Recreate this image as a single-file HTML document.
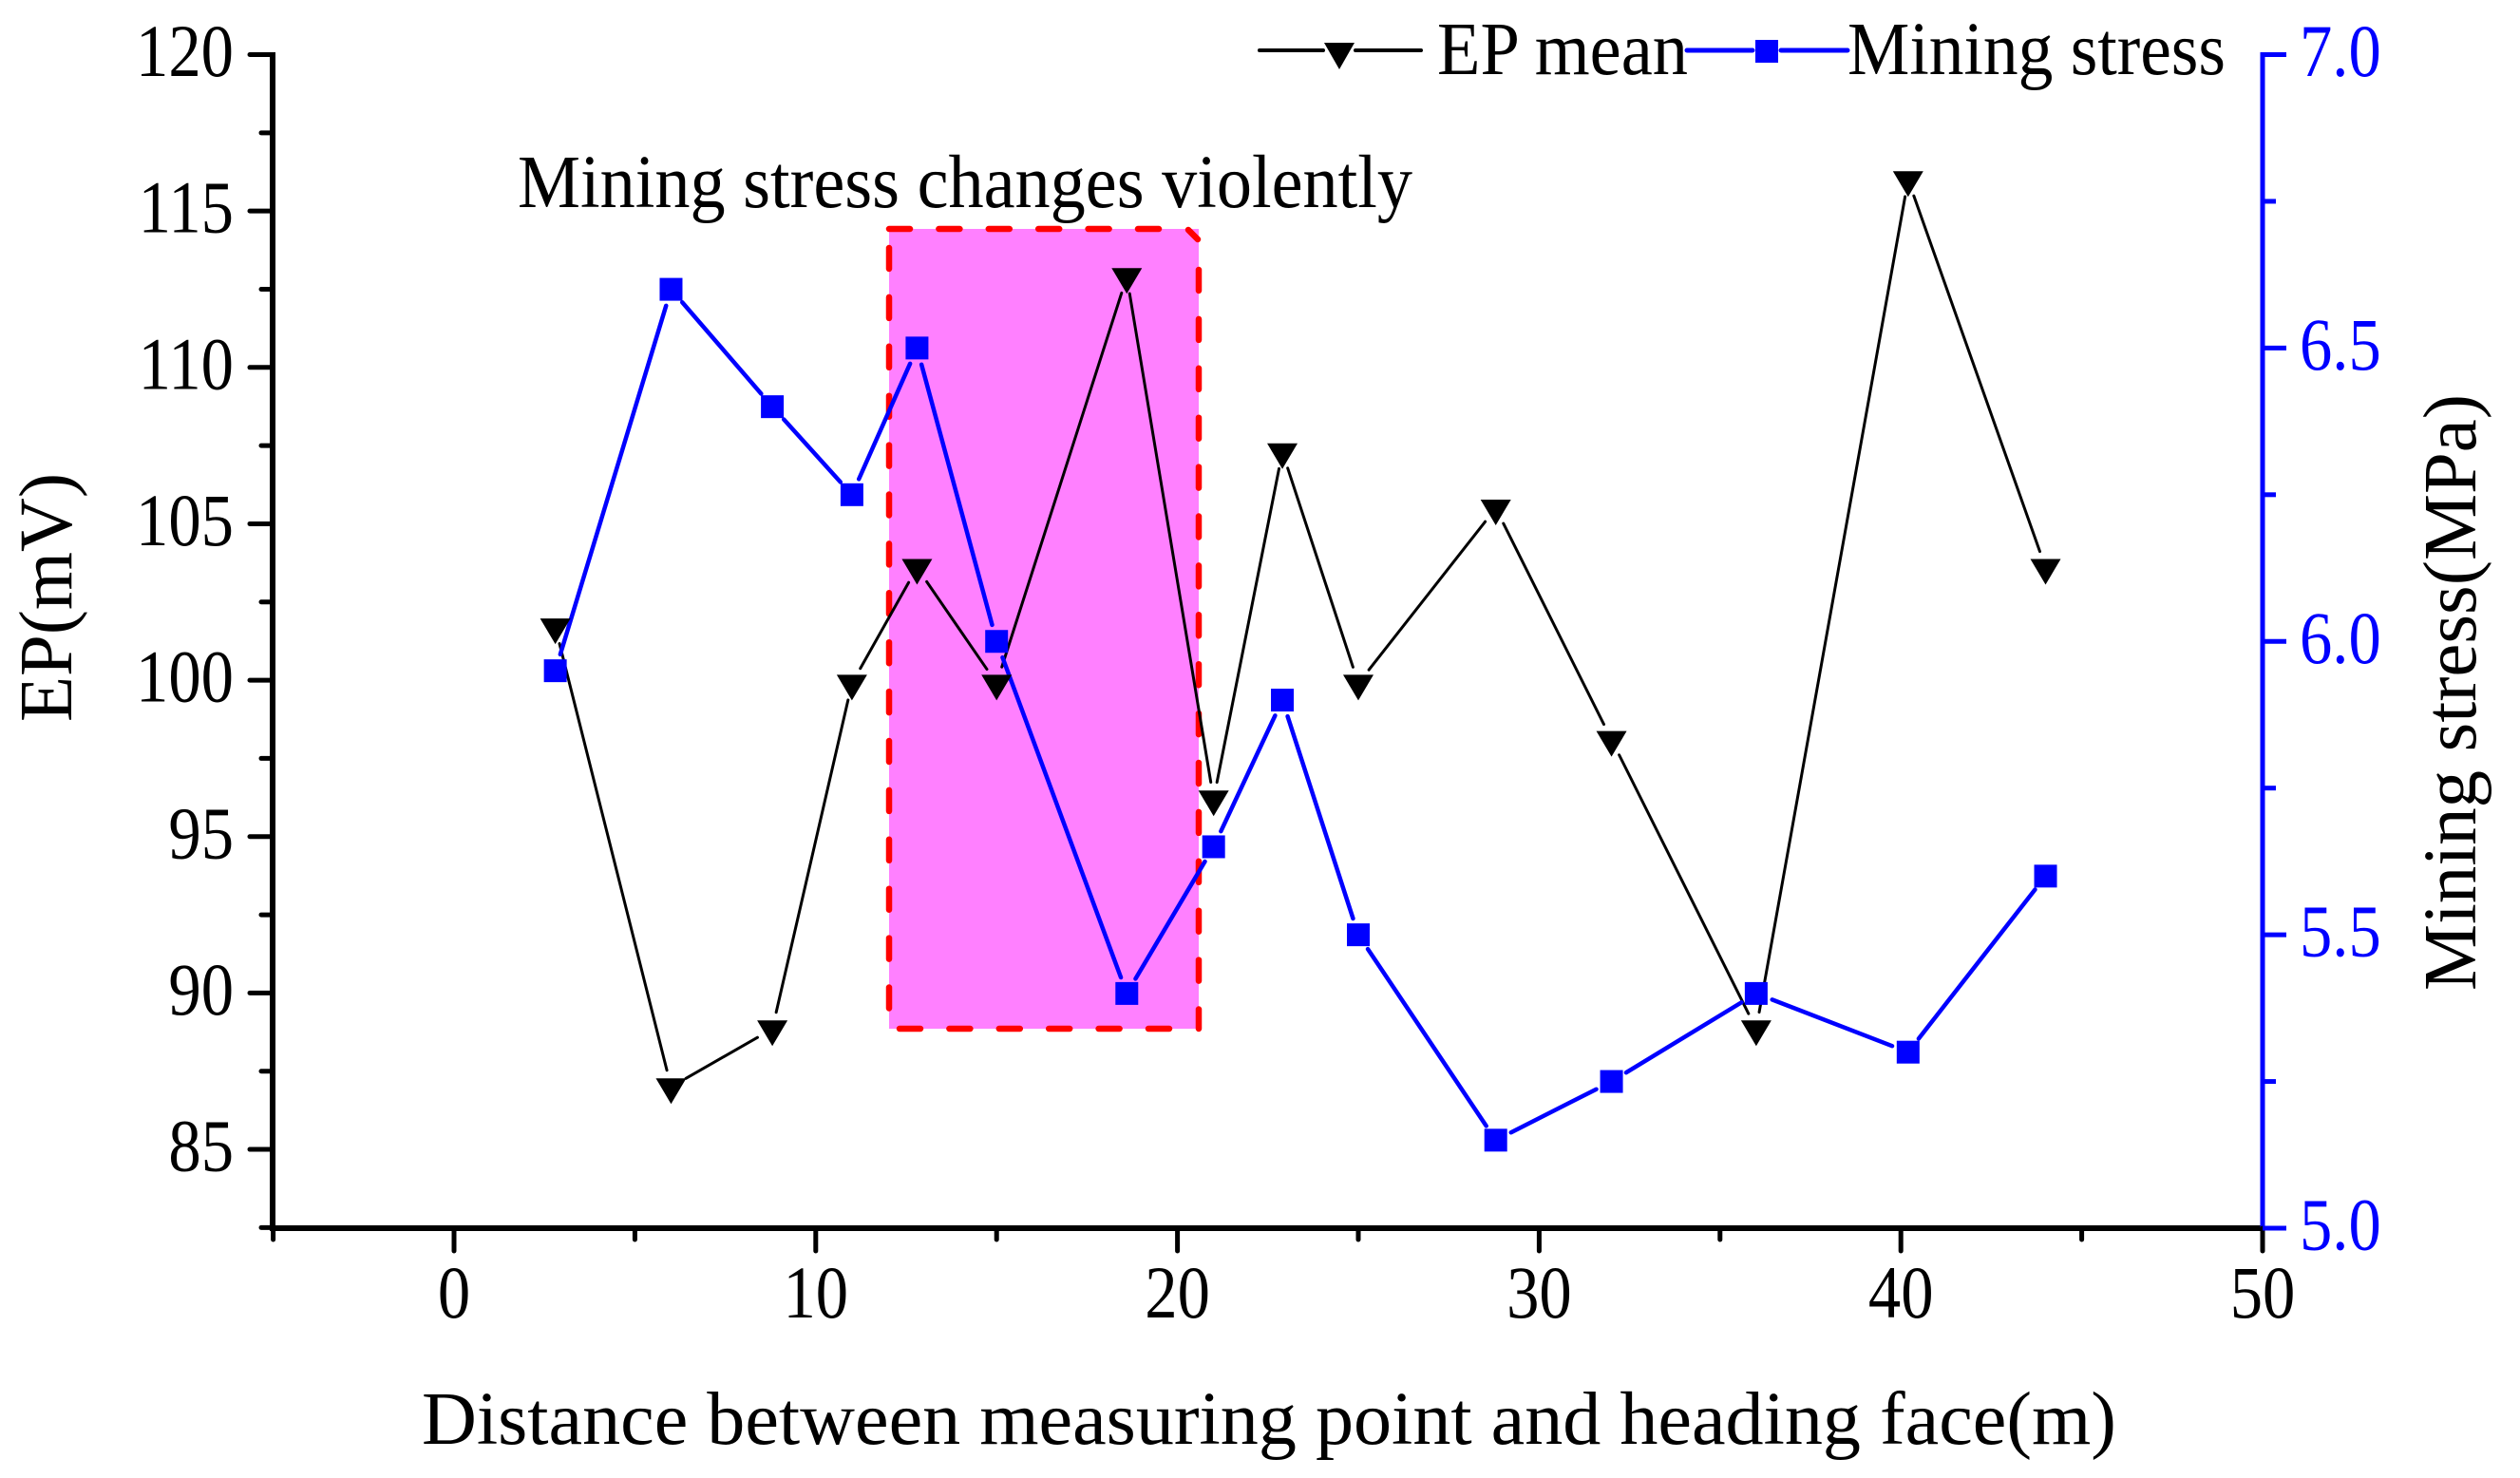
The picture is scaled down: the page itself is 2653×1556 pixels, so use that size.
<!DOCTYPE html>
<html>
<head>
<meta charset="utf-8">
<title>EP mean and mining stress vs distance</title>
<style>
html,body{margin:0;padding:0;background:#fff;}
svg{display:block;}
text{font-family:"Liberation Serif",serif;font-size:79px;fill:#000;}
</style>
</head>
<body>
<svg id="chart" width="2653" height="1556" viewBox="0 0 2653 1556" xmlns="http://www.w3.org/2000/svg">
  <rect x="0" y="0" width="2653" height="1556" fill="#fff"/>
  <rect x="936" y="241" width="326" height="842" fill="#ff80ff"/>
  <g fill="none" stroke="#ff0000" stroke-width="6.5" stroke-linecap="round">
    <path d="M936,241 H1249" stroke-dasharray="22 30.4"/>
    <path d="M1251,242 L1261,252"/>
    <path d="M1262,284 V1083" stroke-dasharray="22 29.9"/>
    <path d="M1231,1083 H940" stroke-dasharray="22 30.4"/>
    <path d="M936,261 V1083" stroke-dasharray="22 29.9"/>
  </g>
  <g id="axes"></g>
  <g id="series"></g>
  <text x="545" y="218" textLength="942" lengthAdjust="spacingAndGlyphs">Mining stress changes violently</text>
  <text x="444" y="1520" textLength="1784" lengthAdjust="spacingAndGlyphs">Distance between measuring point and heading face(m)</text>
  <text transform="translate(75,760) rotate(-90)" textLength="262" lengthAdjust="spacingAndGlyphs">EP(mV)</text>
  <text transform="translate(2606,1043) rotate(-90)" textLength="628" lengthAdjust="spacingAndGlyphs">Mining stress(MPa)</text>
  <g>
    <g>
      <line x1="1326" y1="53" x2="1393" y2="53" stroke="#000" stroke-width="4" stroke-linecap="round"/>
      <line x1="1427" y1="53" x2="1496" y2="53" stroke="#000" stroke-width="4" stroke-linecap="round"/>
      <polygon points="1394,45 1426,45 1410,73" fill="#000"/>
      <text x="1513" y="78" textLength="264" lengthAdjust="spacingAndGlyphs">EP mean</text>
    </g>
    <g>
      <line x1="1776" y1="53" x2="1845" y2="53" stroke="#0000ff" stroke-width="5" stroke-linecap="round"/>
      <line x1="1875" y1="53" x2="1945" y2="53" stroke="#0000ff" stroke-width="5" stroke-linecap="round"/>
      <rect x="1848" y="42" width="24" height="24" fill="#0000ff"/>
      <text x="1945" y="78" textLength="398" lengthAdjust="spacingAndGlyphs">Mining stress</text>
    </g>
  </g>
</svg>
<script>
const distances = [2.8, 6, 8.8, 11, 12.8, 15, 18.6, 21, 22.9, 25, 28.8, 32, 36, 40.2, 44];
const epMean = [101.7, 87, 88.85, 99.9, 103.6, 99.9, 112.9, 96.2, 107.3, 99.9, 105.5, 98.1, 88.85, 116, 103.6];
const miningStress = [5.95, 6.6, 6.4, 6.25, 6.5, 6.0, 5.4, 5.65, 5.9, 5.5, 5.15, 5.25, 5.4, 5.3, 5.6];
const xMajorTicks = [0, 10, 20, 30, 40, 50];
const xMinorTicks = [-5, 5, 15, 25, 35, 45];
const leftMajorTicks = [85, 90, 95, 100, 105, 110, 115, 120];
const leftMinorTicks = [82.5, 87.5, 92.5, 97.5, 102.5, 107.5, 112.5, 117.5];
const rightMajorTicks = ['5.0', '5.5', '6.0', '6.5', '7.0'];
const rightMinorTicks = [5.25, 5.75, 6.25, 6.75];

const SVG_NS = 'http://www.w3.org/2000/svg';
const axesLayer = document.getElementById('axes');
const seriesLayer = document.getElementById('series');

function xScale(v) { return 478 + (v - 0) * 38.08; }
function yLeft(v) { return 57.5 + (120 - v) * 32.93; }
function yRight(v) { return 57.5 + (7 - v) * 617.75; }

function drawLine(parent, x1, y1, x2, y2, color, width) {
  const el = document.createElementNS(SVG_NS, 'line');
  el.setAttribute('x1', x1);
  el.setAttribute('y1', y1);
  el.setAttribute('x2', x2);
  el.setAttribute('y2', y2);
  el.setAttribute('stroke', color);
  el.setAttribute('stroke-width', width);
  parent.appendChild(el);
  return el;
}

function drawLabel(parent, x, y, str, anchor, color) {
  const el = document.createElementNS(SVG_NS, 'text');
  el.setAttribute('transform', 'translate(' + x + ',' + y + ') scale(0.88,1)');
  el.setAttribute('text-anchor', anchor);
  el.style.fill = color;
  el.style.fontSize = '78px';
  el.textContent = str;
  parent.appendChild(el);
  return el;
}

/* axis lines */
const xAxisLine = drawLine(axesLayer, 284, 1293, 2382, 1293, '#000', 6);


const leftAxisLine = drawLine(axesLayer, 287, 55, 287, 1296, '#000', 6);


const rightAxisLine = drawLine(axesLayer, 2382, 55, 2382, 1296, '#0000ff', 5);



/* x axis ticks */
xMajorTicks.forEach(function (t) {
  const tick = drawLine(axesLayer, xScale(t), 1293, xScale(t), 1317, '#000', 5);
  tick.setAttribute('stroke-linecap', 'round');
  
  
  const label = drawLabel(axesLayer, xScale(t), 1387, String(t), 'middle', '#000');
  
  
});
xMinorTicks.forEach(function (t) {
  const tick = drawLine(axesLayer, xScale(t), 1293, xScale(t), 1305, '#000', 5);
  tick.setAttribute('stroke-linecap', 'round');
  
  
});

/* left axis ticks */
leftMajorTicks.forEach(function (t) {
  const tick = drawLine(axesLayer, 263, yLeft(t), 287, yLeft(t), '#000', 5);
  tick.setAttribute('stroke-linecap', 'round');
  
  
  const label = drawLabel(axesLayer, 246, yLeft(t) + 22.5, String(t), 'end', '#000');
  
  
});
leftMinorTicks.forEach(function (t) {
  const tick = drawLine(axesLayer, 275, yLeft(t), 287, yLeft(t), '#000', 5);
  tick.setAttribute('stroke-linecap', 'round');
  
  
});

/* right axis ticks */
rightMajorTicks.forEach(function (t) {
  const v = parseFloat(t);
  const tick = drawLine(axesLayer, 2382, yRight(v), 2407, yRight(v), '#0000ff', 5);
  
  
  const label = drawLabel(axesLayer, 2421, yRight(v) + 22.5, t, 'start', '#0000ff');
  
  
});
rightMinorTicks.forEach(function (t) {
  const tick = drawLine(axesLayer, 2382, yRight(t), 2396, yRight(t), '#0000ff', 5);
  
  
});

/* connecting segments stop short of each marker */
function drawSegments(values, yFn, gap, color, width, segName) {
  for (let i = 0; i < values.length - 1; i++) {
    const ax = xScale(distances[i]), ay = yFn(values[i]);
    const bx = xScale(distances[i + 1]), by = yFn(values[i + 1]);
    const d = Math.hypot(bx - ax, by - ay);
    if (d <= gap * 2) continue;
    const ux = (bx - ax) / d, uy = (by - ay) / d;
    const seg = drawLine(seriesLayer, ax + ux * gap, ay + uy * gap, bx - ux * gap, by - uy * gap, color, width);
    seg.setAttribute('stroke-linecap', 'round');
    
    
  }
}

drawSegments(epMean, yLeft, 18, '#000', 3, 'ep-mean-line-segment');
drawSegments(miningStress, yRight, 18, '#0000ff', 4.5, 'mining-stress-line-segment');

epMean.forEach(function (v, i) {
  const cx = xScale(distances[i]);
  const cy = yLeft(v);
  const tri = document.createElementNS(SVG_NS, 'polygon');
  tri.setAttribute('points', (cx - 16) + ',' + (cy - 9) + ' ' + (cx + 16) + ',' + (cy - 9) + ' ' + cx + ',' + (cy + 18));
  tri.setAttribute('fill', '#000');
  
  
  seriesLayer.appendChild(tri);
});

miningStress.forEach(function (v, i) {
  const cx = xScale(distances[i]);
  const cy = yRight(v);
  const sq = document.createElementNS(SVG_NS, 'rect');
  sq.setAttribute('x', cx - 12);
  sq.setAttribute('y', cy - 12);
  sq.setAttribute('width', 24);
  sq.setAttribute('height', 24);
  sq.setAttribute('fill', '#0000ff');
  
  
  seriesLayer.appendChild(sq);
});
</script>
</body>
</html>
